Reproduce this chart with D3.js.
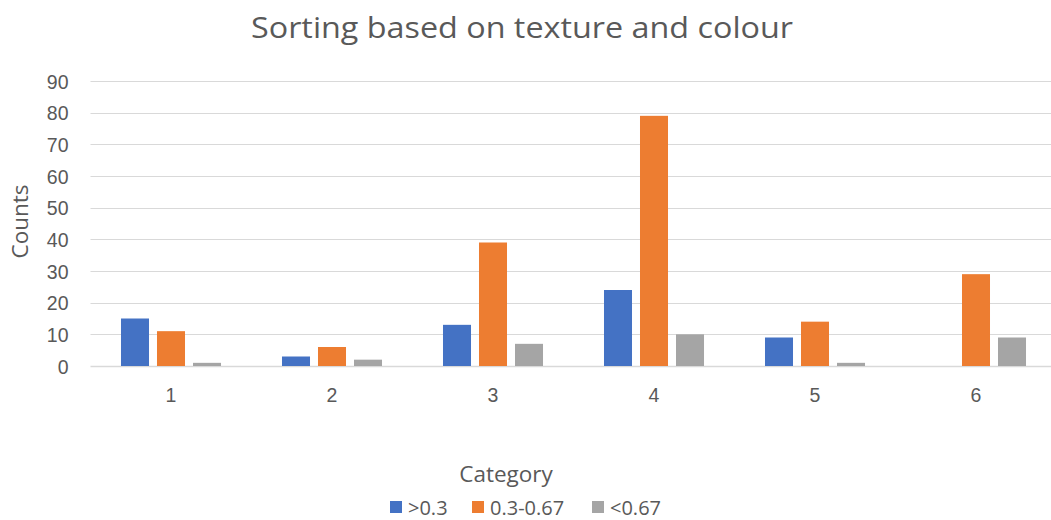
<!DOCTYPE html>
<html>
<head>
<meta charset="utf-8">
<script src="https://cdn.jsdelivr.net/npm/d3@7"></script>
<style>
  html, body { margin: 0; padding: 0; background: #fff; }
  svg { display: block; font-family: "Open Sans", "Liberation Sans", sans-serif; }
</style>
</head>
<body>
<svg id="chart" width="1051" height="520"></svg>
<script>
// Counts per category for each texture/colour threshold
const categories = ["1", "2", "3", "4", "5", "6"];
const seriesNames = [">0.3", "0.3-0.67", "<0.67"];
const seriesColors = ["#4472C4", "#ED7D31", "#A5A5A5"];
const valuesLow = [15, 3, 13, 24, 9, 0];
const valuesMid = [11, 6, 39, 79, 14, 29];
const valuesHigh = [1, 2, 7, 10, 1, 9];
const yTicks = [0, 10, 20, 30, 40, 50, 60, 70, 80, 90];

const series = [valuesLow, valuesMid, valuesHigh];
const textColor = "#595959";

const svg = d3.select("#chart");
const margin = { left: 90.5, right: 1056.5, top: 81, bottom: 366 };

const x = d3.scaleBand().domain(categories).range([margin.left, margin.right]).paddingInner(0).paddingOuter(0);
const x1 = d3.scaleBand().domain(d3.range(series.length)).range([0, x.bandwidth()]).paddingInner(0.222).paddingOuter(0.847);
const y = d3.scaleLinear().domain([0, 90]).range([margin.bottom, margin.top]);

// Horizontal gridlines
svg.append("g")
  .selectAll("line")
  .data(yTicks)
  .join("line")
  .attr("x1", margin.left)
  .attr("x2", margin.right)
  .attr("y1", d => Math.round(y(d)) + 0.5)
  .attr("y2", d => Math.round(y(d)) + 0.5)
  .attr("stroke", "#D9D9D9")
  .attr("stroke-width", d => d === 0 ? 1.5 : 1.2);

// Y axis labels
const yAxis = d3.axisLeft(y).tickValues(yTicks).tickSize(0).tickPadding(0);
const yg = svg.append("g").attr("transform", `translate(${margin.left - 22},0)`).call(yAxis);
yg.select(".domain").remove();
yg.selectAll("text").attr("fill", textColor).attr("text-anchor", "end").style("font-size", "19.5px").attr("dy", "0.36em").attr("x", 0);

// X axis labels
const xAxis = d3.axisBottom(x).tickSize(0).tickPadding(0);
const xg = svg.append("g").attr("transform", `translate(0,${margin.bottom + 22})`).call(xAxis);
xg.select(".domain").remove();
xg.selectAll("text").attr("fill", textColor).style("font-size", "19.5px").attr("dy", "0.7em").attr("y", 0);

// Bars
const groups = svg.append("g")
  .selectAll("g")
  .data(categories)
  .join("g")
  .attr("transform", d => `translate(${x(d)},0)`);

groups.selectAll("rect")
  .data((d, i) => series.map((s, k) => ({ k, v: s[i] })))
  .join("rect")
  .attr("x", d => x1(d.k))
  .attr("width", x1.bandwidth())
  .attr("y", d => y(d.v))
  .attr("height", d => y(0) - y(d.v))
  .attr("fill", d => seriesColors[d.k]);

// Title
svg.append("text")
  .attr("x", 522)
  .attr("y", 38)
  .attr("text-anchor", "middle")
  .attr("fill", textColor)
  .attr("textLength", 542)
  .attr("lengthAdjust", "spacingAndGlyphs")
  .style("font-size", "30px")
  .text("Sorting based on texture and colour");

// Axis titles
svg.append("text")
  .attr("transform", `translate(28,${(margin.top + margin.bottom) / 2 - 2}) rotate(-90)`)
  .attr("text-anchor", "middle")
  .attr("fill", textColor)
  .style("font-size", "22.5px")
  .text("Counts");

svg.append("text")
  .attr("x", 506)
  .attr("y", 482)
  .attr("text-anchor", "middle")
  .attr("fill", textColor)
  .style("font-size", "22.5px")
  .text("Category");

// Legend
const legendItems = [
  { name: seriesNames[0], color: seriesColors[0], x: 390 },
  { name: seriesNames[1], color: seriesColors[1], x: 472 },
  { name: seriesNames[2], color: seriesColors[2], x: 592 }
];
const lg = svg.append("g")
  .selectAll("g")
  .data(legendItems)
  .join("g")
  .attr("transform", d => `translate(${d.x},0)`);
lg.append("rect")
  .attr("x", 0).attr("y", 501).attr("width", 12).attr("height", 12)
  .attr("fill", d => d.color);
lg.append("text")
  .attr("x", 18).attr("y", 514.5)
  .attr("fill", textColor)
  .style("font-size", "20px")
  .text(d => d.name);
</script>
</body>
</html>
